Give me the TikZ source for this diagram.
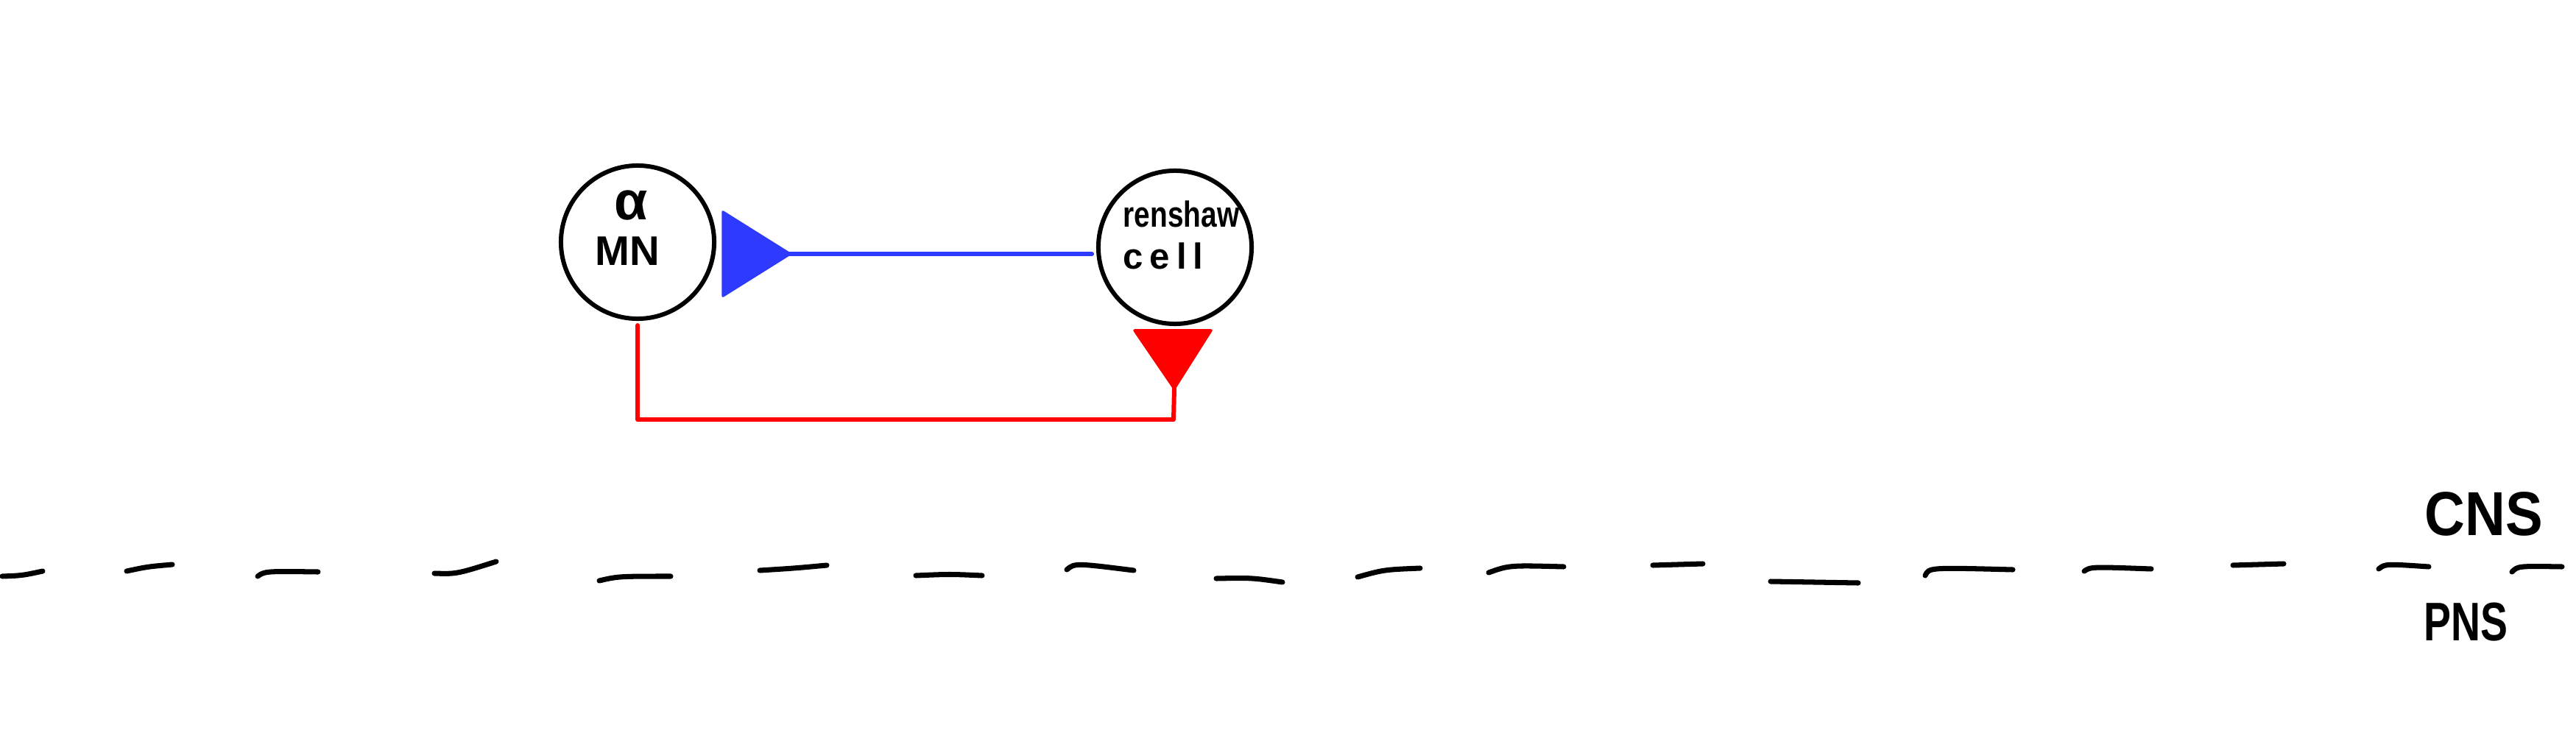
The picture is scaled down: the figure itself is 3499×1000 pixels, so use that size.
\documentclass[tikz,border=0pt]{standalone}
\usepackage{fontspec}
\setmainfont{Liberation Sans}
\definecolor{myblue}{RGB}{47,58,255}
\definecolor{myred}{RGB}{255,0,0}
\begin{document}
\begin{tikzpicture}[x=0.01cm,y=-0.01cm, line cap=round, line join=round,
  neuron/.style={circle, draw=black, line width=1.7pt, minimum size=2.08cm, inner sep=0pt},
  dashseg/.style={draw=black, line width=2pt},
  bluefib/.style={draw=myblue, line width=1.8pt},
  redfib/.style={draw=myred, line width=1.7pt},
  lbl/.style={inner sep=0pt, anchor=base west, font=\bfseries}]
\useasboundingbox (0,0) rectangle (3499,1000);
\fill[white] (0,0) rectangle (3499,1000);

% neurons
\node[neuron] (amn) at (866,329) {};
\node[neuron] (rc) at (1596,336) {};
\node[inner sep=0pt, font=\fontsize{21}{21}\selectfont\bfseries] (alpha) at (857,279) {α};
\node[inner sep=0pt, font=\fontsize{16}{16}\selectfont\bfseries] (mn) at (852,341) {MN};
\node[lbl, font=\fontsize{14}{14}\selectfont\bfseries] (ren) at (1525,308) {\scalebox{0.79}[1]{renshaw}};
\node[lbl, font=\fontsize{14}{14}\selectfont\bfseries] (cel) at (1525,365) {\addfontfeature{LetterSpace=18}cell};

% blue connector: renshaw cell -> alpha MN
\coordinate (btip) at (1073,345);
\draw[bluefib] (btip) -- ([xshift=-0.06cm]btip -| rc.west);
\filldraw[myblue, line width=1pt] (982,288) -- (btip) -- (982,402) -- cycle;

% red connector: alpha MN -> renshaw cell
\coordinate (rtip) at (1595,528);
\coordinate (rbase) at (1594,570);
\draw[redfib] ([yshift=-0.06cm]amn.south) |- (rbase) -- (rtip);
\filldraw[myred, line width=1pt] (1541,449) -- (1645,449) -- (rtip) -- cycle;

% CNS / PNS boundary
\draw[dashseg] (3,783) .. controls (30,782) .. (58,776);
\draw[dashseg] (172,776) .. controls (200,770) .. (234,767);
\draw[dashseg] (350,783) .. controls (360,776) .. (432,777);
\draw[dashseg] (590,779) .. controls (620,780) .. (674,763);
\draw[dashseg] (814,789) .. controls (840,783) .. (911,783);
\draw[dashseg] (1032,775) .. controls (1080,772) .. (1123,768);
\draw[dashseg] (1244,782) .. controls (1290,780) .. (1334,782);
\draw[dashseg] (1449,774) .. controls (1460,765) .. (1540,775);
\draw[dashseg] (1652,786) .. controls (1700,785) .. (1742,791);
\draw[dashseg] (1844,784) .. controls (1880,774) .. (1929,772);
\draw[dashseg] (2022,778) .. controls (2050,768) .. (2124,770);
\draw[dashseg] (2245,768) -- (2313,766);
\draw[dashseg] (2405,790) -- (2524,792);
\draw[dashseg] (2615,782) .. controls (2620,771) .. (2734,774);
\draw[dashseg] (2831,776) .. controls (2840,770) .. (2922,773);
\draw[dashseg] (3033,768) -- (3102,766);
\draw[dashseg] (3231,773) .. controls (3240,766) .. (3299,770);
\draw[dashseg] (3412,777) .. controls (3420,769) .. (3480,770);

\node[lbl, font=\fontsize{24}{24}\selectfont\bfseries] (cns) at (3293,727) {\scalebox{0.9}[1]{CNS}};
\node[lbl, font=\fontsize{21}{21}\selectfont\bfseries] (pns) at (3292,870) {\scalebox{0.75}[1]{PNS}};
\end{tikzpicture}
\end{document}
